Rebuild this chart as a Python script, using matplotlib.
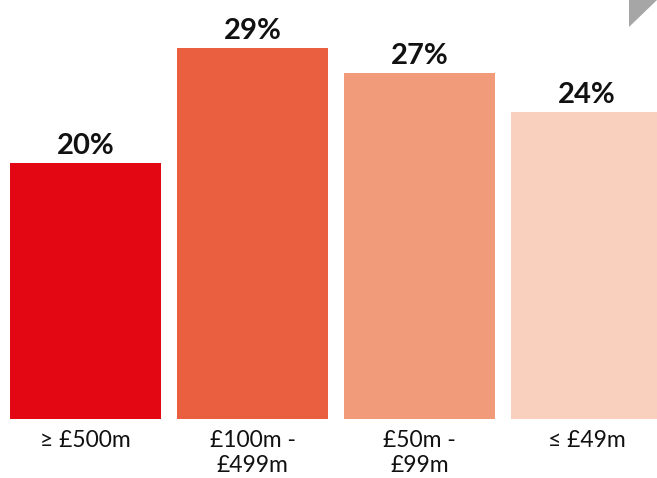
import matplotlib
matplotlib.use("Agg")
import matplotlib.pyplot as plt
from matplotlib.patches import Polygon

categories = ["≥ £500m", "£100m -\n£499m", "£50m -\n£99m", "≤ £49m"]
values = [20, 29, 27, 24]
colors = ["#E30613", "#E95F40", "#F29B7B", "#F9CFBE"]

W, H = 657, 478
fig = plt.figure(figsize=(W / 100, H / 100), dpi=100)
bottom_px = 59
ax = fig.add_axes([0, bottom_px / H, 1, 1 - bottom_px / H])
spacing = 167.0
c0 = 85.5
ax.set_xlim(-c0 / spacing, (W - c0) / spacing)
ax.set_ylim(0, (H - bottom_px) / 12.8)
ax.axis("off")

fam = ["Lato", "DejaVu Sans"]
x = list(range(len(values)))
ax.bar(x, values, width=151 / spacing, color=colors)
for xi, v in zip(x, values):
    ax.annotate(f"{v}%", (xi, v), xytext=(0, 3), textcoords="offset points",
                ha="center", va="bottom", fontsize=21, fontweight="bold",
                family=fam, color="#111111")
for xi, c in zip(x, categories):
    ax.annotate(c, (xi, 0), xytext=(0, -8), textcoords="offset points",
                ha="center", va="top", fontsize=16.5, linespacing=1.25,
                family=fam, color="#111111")

tri = Polygon([[629 / W, 1], [1, 1], [629 / W, 1 - 27 / H]], closed=True,
              transform=fig.transFigure, color="#A6A6A6", lw=0)
fig.patches.append(tri)

fig.savefig("out.png", dpi=100)
